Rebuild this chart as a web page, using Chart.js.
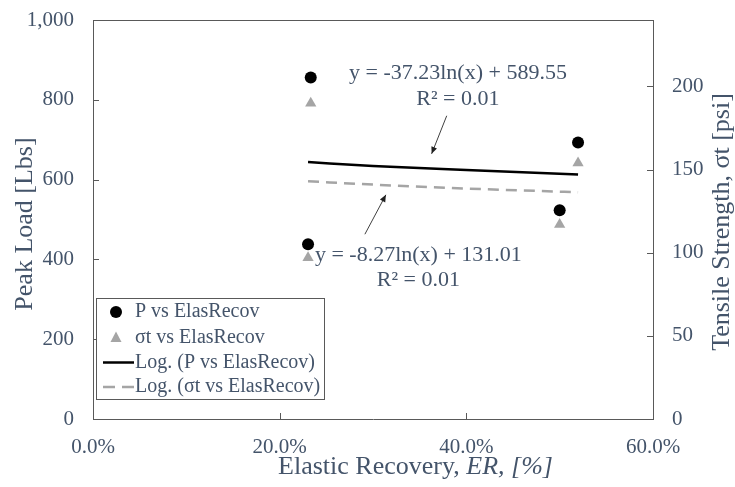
<!DOCTYPE html>
<html><head><meta charset="utf-8">
<script src="https://cdn.jsdelivr.net/npm/chart.js@4/dist/chart.umd.min.js"></script>
<style>html,body{margin:0;padding:0;background:#fff;}#wrap{width:735px;height:487px;position:relative;}canvas{display:block;}</style>
</head><body><div id="wrap"><canvas id="c" width="735" height="487" style="width:735px;height:487px"></canvas></div>
<script>
// ---- data ----
const elasticRecovery = [0.2333, 0.2304, 0.5000, 0.5197];
const peakLoad = [856, 438, 523, 693];
const tensileStrength = [190, 97, 117, 154];
const trendER = [0.2304, 0.30, 0.40, 0.5197];
const trendPeakLoad = [644, 634, 624, 613];
const trendTensile = [143, 141, 138.6, 136.4];
const seriesLabels = ['P vs ElasRecov', 'σt vs ElasRecov', 'Log. (P vs ElasRecov)', 'Log. (σt vs ElasRecov)'];
const xTicks = [0, 0.2, 0.4, 0.6];
const leftTicks = [0, 200, 400, 600, 800, 1000];
const rightTicks = [0, 50, 100, 150, 200];
const eqP = ['y = -37.23ln(x) + 589.55', 'R² = 0.01'];
const eqS = ['y = -8.27ln(x) + 131.01', 'R² = 0.01'];
const xTitle = ['Elastic Recovery, ', 'ER, [%]'];
const yTitle = 'Peak Load [Lbs]';
const y1Title = 'Tensile Strength, σt [psi]';

// ---- styles ----
const TXT = '#44546A';
const AXIS = '#595959';
const GREY = '#A5A5A5';
const SERIF = "'Liberation Serif', 'Times New Roman', serif";

const pts = (xs, ys) => xs.map((v, i) => ({x: v, y: ys[i]}));

const annotationCfg = {
  labels: [
    {x: 0.391, y: [867, 802], lines: eqP},
    {x: 0.3486, y: [411.5, 349], lines: eqS}
  ],
  arrows: [
    {from: [0.379, 760], to: [0.3628, 664.5]},
    {from: [0.2913, 463], to: [0.3138, 561.8]}
  ]
};

function arrow(ctx, x1, y1, x2, y2) {
  ctx.strokeStyle = '#404040'; ctx.fillStyle = '#202020'; ctx.lineWidth = 1;
  ctx.beginPath(); ctx.moveTo(x1, y1); ctx.lineTo(x2, y2); ctx.stroke();
  const ang = Math.atan2(y2 - y1, x2 - x1), L = 7, W = 3;
  ctx.beginPath();
  ctx.moveTo(x2, y2);
  ctx.lineTo(x2 - L * Math.cos(ang) + W * Math.sin(ang), y2 - L * Math.sin(ang) - W * Math.cos(ang));
  ctx.lineTo(x2 - L * Math.cos(ang) - W * Math.sin(ang), y2 - L * Math.sin(ang) + W * Math.cos(ang));
  ctx.closePath(); ctx.fill();
}

const decor = {
  id: 'decor',
  afterDraw(chart) {
    const {ctx, chartArea: a, scales: {x, y, y1}} = chart;
    ctx.save();
    // top frame line
    ctx.strokeStyle = AXIS; ctx.lineWidth = 1;
    ctx.beginPath(); ctx.moveTo(a.left, Math.round(a.top) + 0.5); ctx.lineTo(a.right, Math.round(a.top) + 0.5); ctx.stroke();
    // inner tick marks
    ctx.beginPath();
    x.ticks.forEach(t => { if (t.value > x.min && t.value < x.max) { const p = Math.round(x.getPixelForValue(t.value)) + 0.5; ctx.moveTo(p, a.bottom); ctx.lineTo(p, a.bottom - 6); } });
    y.ticks.forEach(t => { if (t.value > y.min && t.value < y.max) { const p = Math.round(y.getPixelForValue(t.value)) + 0.5; ctx.moveTo(a.left, p); ctx.lineTo(a.left + 6, p); } });
    y1.ticks.forEach(t => { if (t.value > y1.min && t.value < y1.max) { const p = Math.round(y1.getPixelForValue(t.value)) + 0.5; ctx.moveTo(a.right, p); ctx.lineTo(a.right - 6, p); } });
    ctx.stroke();

    // trendline equations
    ctx.fillStyle = TXT; ctx.font = '22px ' + SERIF; ctx.textAlign = 'center'; ctx.textBaseline = 'middle';
    annotationCfg.labels.forEach(l => {
      const px = x.getPixelForValue(l.x);
      l.lines.forEach((s, i) => ctx.fillText(s, px, y.getPixelForValue(l.y[i])));
    });
    annotationCfg.arrows.forEach(ar => arrow(ctx,
      x.getPixelForValue(ar.from[0]), y.getPixelForValue(ar.from[1]),
      x.getPixelForValue(ar.to[0]), y.getPixelForValue(ar.to[1])));

    // legend
    const lx = a.left + 3, ly = 298.5, lw = 228, lh = 101;
    ctx.fillStyle = '#fff'; ctx.fillRect(lx, ly, lw, lh);
    ctx.strokeStyle = AXIS; ctx.lineWidth = 1; ctx.strokeRect(lx + 0.5, ly, lw, lh);
    const rows = [312, 337.5, 362.5, 387];
    ctx.font = '20px ' + SERIF; ctx.textAlign = 'left'; ctx.textBaseline = 'middle';
    seriesLabels.forEach((lab, i) => { ctx.fillStyle = TXT; ctx.fillText(lab, lx + 39, rows[i]); });
    const mx = lx + 20;
    ctx.fillStyle = '#000'; ctx.beginPath(); ctx.arc(mx, rows[0], 6, 0, Math.PI * 2); ctx.fill();
    ctx.fillStyle = GREY; ctx.beginPath();
    ctx.moveTo(mx, rows[1] - 6); ctx.lineTo(mx + 5.5, rows[1] + 4.5); ctx.lineTo(mx - 5.5, rows[1] + 4.5); ctx.closePath(); ctx.fill();
    ctx.lineWidth = 2.5; ctx.strokeStyle = '#000'; ctx.setLineDash([]);
    ctx.beginPath(); ctx.moveTo(lx + 7, rows[2]); ctx.lineTo(lx + 38, rows[2]); ctx.stroke();
    ctx.strokeStyle = GREY; ctx.setLineDash([12, 7]);
    ctx.beginPath(); ctx.moveTo(lx + 7, rows[3]); ctx.lineTo(lx + 38, rows[3]); ctx.stroke();
    ctx.setLineDash([]);

    // axis titles
    ctx.fillStyle = TXT; ctx.font = '26px ' + SERIF; ctx.textBaseline = 'middle'; ctx.textAlign = 'center';
    ctx.save(); ctx.translate(25, 224); ctx.rotate(-Math.PI / 2); ctx.fillText(yTitle, 0, 0); ctx.restore();
    ctx.save(); ctx.translate(722, 222); ctx.rotate(-Math.PI / 2); ctx.fillText(y1Title, 0, 0); ctx.restore();
    ctx.textAlign = 'left';
    ctx.font = '26px ' + SERIF; const w1 = ctx.measureText(xTitle[0]).width;
    ctx.font = 'italic 26px ' + SERIF; const w2 = ctx.measureText(xTitle[1]).width;
    const sx = 415.5 - (w1 + w2) / 2;
    ctx.font = '26px ' + SERIF; ctx.fillText(xTitle[0], sx, 467);
    ctx.font = 'italic 26px ' + SERIF; ctx.fillText(xTitle[1], sx + w1, 467);
    ctx.restore();
  }
};

const tickFont = {family: SERIF, size: 21};
const hiddenGrid = len => ({display: true, drawOnChartArea: false, drawTicks: true, tickLength: len, color: 'rgba(0,0,0,0)'});

new Chart(document.getElementById('c'), {
  type: 'scatter',
  data: {
    datasets: [
      {label: seriesLabels[0], data: pts(elasticRecovery, peakLoad), yAxisID: 'y',
       pointStyle: 'circle', pointRadius: 6, pointHoverRadius: 6, backgroundColor: '#000', borderWidth: 0, order: 2},
      {label: seriesLabels[1], data: pts(elasticRecovery, tensileStrength), yAxisID: 'y1',
       pointStyle: 'triangle', pointRadius: 6.5, pointHoverRadius: 6.5, backgroundColor: GREY, borderWidth: 0, order: 2},
      {label: seriesLabels[2], data: pts(trendER, trendPeakLoad), yAxisID: 'y', showLine: true,
       pointRadius: 0, borderColor: '#000', borderWidth: 2.5, cubicInterpolationMode: 'monotone', order: 1},
      {label: seriesLabels[3], data: pts(trendER, trendTensile), yAxisID: 'y1', showLine: true,
       pointRadius: 0, borderColor: GREY, borderWidth: 2.5, borderDash: [11, 7], cubicInterpolationMode: 'monotone', order: 1}
    ]
  },
  options: {
    responsive: false, maintainAspectRatio: false, animation: false, devicePixelRatio: 1,
    layout: {padding: {top: 20, left: 0, right: 0, bottom: 0}},
    plugins: {legend: {display: false}, tooltip: {enabled: false}},
    scales: {
      x: {type: 'linear', position: 'bottom', min: 0, max: 0.6,
          afterBuildTicks: s => { s.ticks = xTicks.map(v => ({value: v})); },
          afterFit: s => { s.height = 68; },
          ticks: {font: tickFont, color: TXT, padding: 0, maxRotation: 0, minRotation: 0, callback: v => (v * 100).toFixed(1) + '%'},
          grid: hiddenGrid(16),
          border: {display: true, color: AXIS, width: 1}},
      y: {type: 'linear', position: 'left', min: 0, max: 1000,
          afterBuildTicks: s => { s.ticks = leftTicks.map(v => ({value: v})); },
          afterFit: s => { s.width = 93; },
          ticks: {font: tickFont, color: TXT, padding: 0, callback: v => v.toLocaleString('en-US')},
          grid: hiddenGrid(19),
          border: {display: true, color: AXIS, width: 1}},
      y1: {type: 'linear', position: 'right', min: 0, max: 240,
          afterBuildTicks: s => { s.ticks = rightTicks.map(v => ({value: v})); },
          afterFit: s => { s.width = 82; },
          ticks: {font: tickFont, color: TXT, padding: 0},
          grid: hiddenGrid(19),
          border: {display: true, color: AXIS, width: 1}}
    }
  },
  plugins: [decor]
});
</script>
</body></html>
